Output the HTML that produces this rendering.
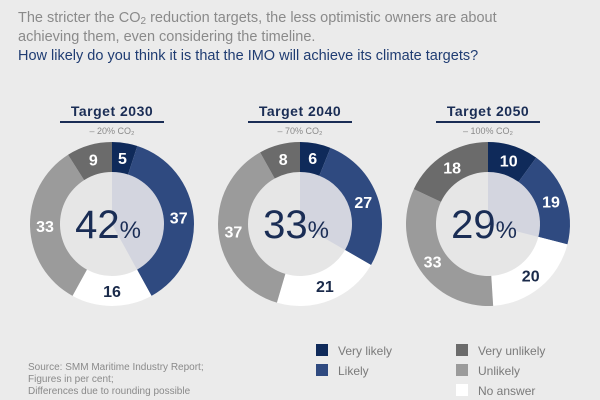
<!DOCTYPE html>
<html><head><meta charset="utf-8"><style>
body{margin:0;width:600px;height:400px;background:#ebebeb;font-family:"Liberation Sans",sans-serif;overflow:hidden;position:relative}
.t{position:absolute;left:18px;font-size:14.5px;color:#8a8a8a;line-height:19px;white-space:nowrap}
sub{font-size:10px;line-height:0;vertical-align:-2px}
</style></head><body>
<div class="t" style="top:9px">The stricter the CO<sub>2</sub> reduction targets, the less optimistic owners are about<br>achieving them, even considering the timeline.</div>
<div class="t" style="top:47px;color:#1f3c72">How likely do you think it is that the IMO will achieve its climate targets?</div>
<svg id="s" width="600" height="400" style="position:absolute;left:0;top:0" font-family="Liberation Sans, sans-serif"></svg>
<script>
const s=document.getElementById('s');let h='';
const cols=['#0f2a5a','#2f4a80','#ffffff','#9b9b9b','#6b6b6b'];
const tcol=['#fff','#fff','#1a2a4a','#fff','#fff'];
const data=[[112,'2030','20',[5,37,16,33,9],42],[300,'2040','70',[6,27,21,37,8],33],[488,'2050','100',[10,19,20,33,18],29]];
const R=82,r=52,cy=224;
function pt(cx,a,rr){return [cx+rr*Math.sin(a),cy-rr*Math.cos(a)];}
function arc(cx,a0,a1,ro,ri){const l=(a1-a0)>Math.PI?1:0;const p=pt(cx,a0,ro),q=pt(cx,a1,ro),u=pt(cx,a1,ri),v=pt(cx,a0,ri);
return `M${p}A${ro},${ro} 0 ${l} 1 ${q}L${u}`+(ri>0?`A${ri},${ri} 0 ${l} 0 ${v}`:'')+'Z';}
for(const [cx,yr,pc,v,c] of data){
 const tot=v.reduce((a,b)=>a+b,0);let a=0;
 h+=`<circle cx="${cx}" cy="${cy}" r="${r}" fill="#e6e6e6"/>`;
 h+=`<path d="${arc(cx,0,(v[0]+v[1])/tot*2*Math.PI,r,0)}" fill="#d3d5df"/>`;
 v.forEach((x,i)=>{const a1=a+x/tot*2*Math.PI;h+=`<path d="${arc(cx,a,a1,R,r)}" fill="${cols[i]}"/>`;
  const m=pt(cx,(a+a1)/2,(R+r)/2);h+=`<text x="${m[0]}" y="${m[1]+6}" text-anchor="middle" font-size="16" font-weight="bold" fill="${tcol[i]}">${x}</text>`;a=a1;});
 h+=`<text x="${cx-4}" y="${cy+14}" text-anchor="middle" font-size="40" fill="#1a2d55">${c}<tspan font-size="24">%</tspan></text>`;
 h+=`<text x="${cx}" y="116" text-anchor="middle" font-size="14" font-weight="bold" fill="#1a2d55" letter-spacing="0.5">Target ${yr}</text>`;
 h+=`<rect x="${cx-52}" y="121" width="104" height="2" fill="#1a2d55"/>`;
 h+=`<text x="${cx}" y="134" text-anchor="middle" font-size="9" fill="#8a8a8a">– ${pc}% CO₂</text>`;
}
const lg=[[316,350,'#0f2a5a','Very likely'],[316,370,'#2f4a80','Likely'],[456,350,'#6b6b6b','Very unlikely'],[456,370,'#9b9b9b','Unlikely'],[456,390,'#fff','No answer']];
for(const [x,y,c,t] of lg){h+=`<rect x="${x}" y="${y-6}" width="12" height="12" fill="${c}"/><text x="${x+22}" y="${y+5}" font-size="12" fill="#7a7a7a">${t}</text>`;}
h+=`<text font-size="10" fill="#8a8a8a"><tspan x="28" y="370">Source: SMM Maritime Industry Report;</tspan><tspan x="28" y="382">Figures in per cent;</tspan><tspan x="28" y="394">Differences due to rounding possible</tspan></text>`;
s.innerHTML=h;
</script>
</body></html>
